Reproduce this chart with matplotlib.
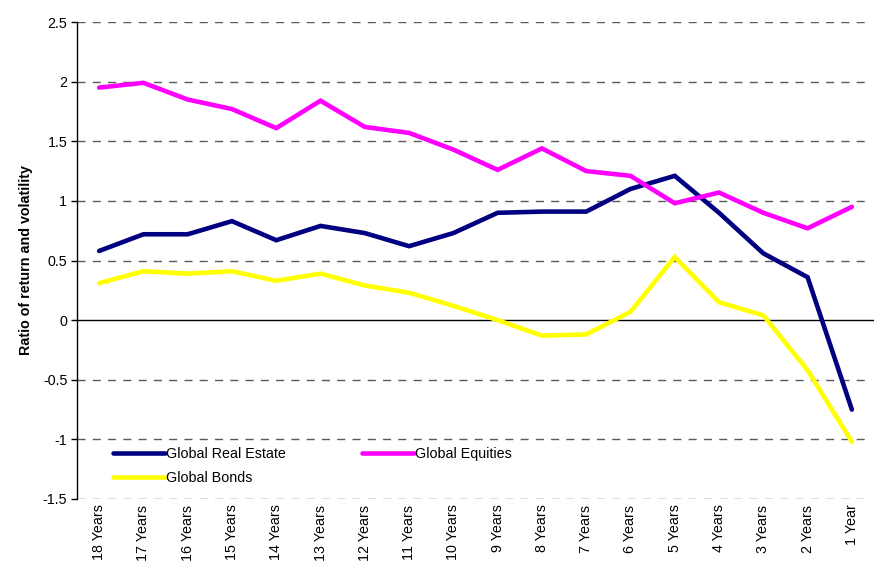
import matplotlib
matplotlib.use("Agg")
import matplotlib.pyplot as plt

plt.rcParams['font.family'] = ['Liberation Sans', 'DejaVu Sans']

categories = ["18 Years", "17 Years", "16 Years", "15 Years", "14 Years", "13 Years",
              "12 Years", "11 Years", "10 Years", "9 Years", "8 Years", "7 Years",
              "6 Years", "5 Years", "4 Years", "3 Years", "2 Years", "1 Year"]

real_estate = [0.58, 0.72, 0.72, 0.83, 0.67, 0.79, 0.73, 0.62, 0.73, 0.90, 0.91, 0.91,
               1.10, 1.21, 0.90, 0.56, 0.36, -0.75]
equities = [1.95, 1.99, 1.85, 1.77, 1.61, 1.84, 1.62, 1.57, 1.43, 1.26, 1.44, 1.25,
            1.21, 0.98, 1.07, 0.90, 0.77, 0.95]
bonds = [0.31, 0.41, 0.39, 0.41, 0.33, 0.39, 0.29, 0.23, 0.12, 0.00, -0.13, -0.12,
         0.07, 0.53, 0.15, 0.04, -0.42, -1.02]

yticks = [-1.5, -1, -0.5, 0, 0.5, 1, 1.5, 2, 2.5]
ytick_labels = ["-1.5", "-1", "-0.5", "0", "0.5", "1", "1.5", "2", "2.5"]

FS = 10.3

fig = plt.figure(figsize=(8.81, 5.69), dpi=100)
ax = fig.add_axes([77/881, 70/569, 797/881, 477/569])

x = list(range(len(categories)))

for y in yticks:
    if y == 0:
        ax.axhline(y, color='black', lw=1.0, zorder=1)
    else:
        ax.axhline(y, xmax=0.993, color='#5a5a5a', lw=1.0, ls=(0, (5.8, 5.2)), zorder=1)

l_re, = ax.plot(x, real_estate, color='#000080', lw=3.3, label='Global Real Estate',
                solid_joinstyle='miter', solid_capstyle='round', zorder=3)
l_eq, = ax.plot(x, equities, color='#FF00FF', lw=3.3, label='Global Equities',
                solid_joinstyle='miter', solid_capstyle='round', zorder=3)
l_bd, = ax.plot(x, bonds, color='#FFFF00', lw=3.3, label='Global Bonds',
                solid_joinstyle='miter', solid_capstyle='round', zorder=3)

ax.set_xlim(-0.5, len(categories) - 0.5)
ax.set_ylim(-1.5, 2.5)
ax.set_yticks(yticks)
ax.set_yticklabels(ytick_labels, fontsize=FS)
ax.set_xticks(x)
ax.set_xticklabels(categories, rotation=90, fontsize=FS)
ax.tick_params(axis='x', length=0, pad=4)
ax.tick_params(axis='y', length=4, width=1, direction='out', pad=3)

for s in ['top', 'right', 'bottom']:
    ax.spines[s].set_visible(False)
ax.spines['left'].set_color('black')
ax.spines['left'].set_linewidth(1.0)

ax.set_ylabel("Ratio of return and volatility", fontsize=FS, fontweight='bold', labelpad=7)

leg = ax.legend([l_re, l_bd, l_eq], ['Global Real Estate', 'Global Bonds', 'Global Equities'],
                loc='upper left', bbox_to_anchor=(113/881, 1 - 447/569),
                bbox_transform=fig.transFigure, ncol=2, frameon=False,
                fontsize=FS, handlelength=3.6, handletextpad=0.1,
                columnspacing=5.35, labelspacing=0.7, borderpad=0, borderaxespad=0)

fig.savefig("out.png", dpi=100, facecolor='white')
